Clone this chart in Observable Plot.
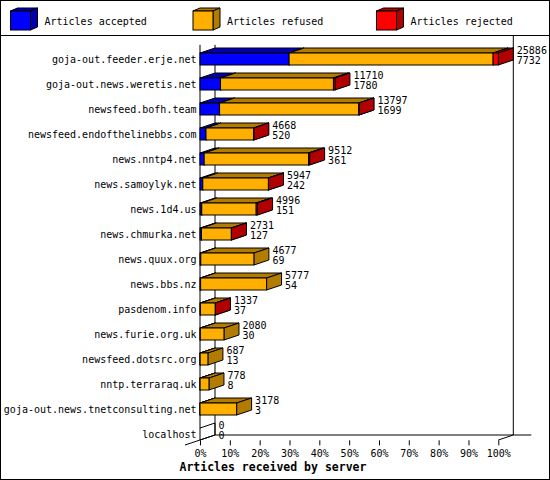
<!DOCTYPE html>
<html>
<head>
<meta charset="utf-8">
<script src="https://cdn.jsdelivr.net/npm/d3@7"></script>
<script src="https://cdn.jsdelivr.net/npm/@observablehq/plot@0.6"></script>
<style>
  html, body { margin: 0; padding: 0; background: #fff; }
  #wrap { position: relative; width: 550px; height: 480px; background: #fff; overflow: hidden; }
  #legend { position: absolute; left: 0; top: 0; width: 550px; height: 36px; border-bottom: 1px solid #000; box-sizing: border-box; }
  #chart { position: absolute; left: 0; top: 36px; }
  #border { position: absolute; left: 0; top: 0; width: 550px; height: 480px; border: 1px solid #000; box-sizing: border-box; pointer-events: none; }
  text { font-family: "DejaVu Sans Mono", "Liberation Mono", monospace; }
</style>
</head>
<body>
<div id="wrap">
  <div id="legend"></div>
  <div id="chart"></div>
  <div id="border"></div>
</div>
<script>
// ---- data ----
const hosts = [
  "goja-out.feeder.erje.net",
  "goja-out.news.weretis.net",
  "newsfeed.bofh.team",
  "newsfeed.endofthelinebbs.com",
  "news.nntp4.net",
  "news.samoylyk.net",
  "news.1d4.us",
  "news.chmurka.net",
  "news.quux.org",
  "news.bbs.nz",
  "pasdenom.info",
  "news.furie.org.uk",
  "newsfeed.dotsrc.org",
  "nntp.terraraq.uk",
  "goja-out.news.tnetconsulting.net",
  "localhost"
];
const totals   = [25886, 11710, 13797, 4668, 9512, 5947, 4996, 2731, 4677, 5777, 1337, 2080, 687, 778, 3178, 0];
const accepted = [7732, 1780, 1699, 520, 361, 242, 151, 127, 69, 54, 37, 30, 13, 8, 3, 0];
const refused  = [17704, 9800, 12078, 4133, 9061, 5695, 4725, 2594, 4608, 5723, 1290, 2050, 674, 770, 3175, 0];
const rejected = [450, 130, 20, 15, 90, 10, 120, 10, 0, 0, 10, 0, 0, 0, 0, 0];
const seriesNames = ["Articles accepted", "Articles refused", "Articles rejected"];
const seriesColors = ["#0000FF", "#FFAF00", "#FF0000"];
const seriesDark = ["#0000B0", "#B27C00", "#B00000"];
const xTicks = [0, 10, 20, 30, 40, 50, 60, 70, 80, 90, 100];
const xTitle = "Articles received by server";

// ---- derived tables ----
const maxTotal = d3.max(totals);
const seriesValues = [accepted, refused, rejected];
const segs = [];
hosts.forEach((h, i) => {
  let c = 0;
  seriesValues.forEach((vals, k) => {
    const v = vals[i];
    if (v > 0) segs.push({host: h, series: seriesNames[k], k, x1: c / maxTotal * 100, x2: (c + v) / maxTotal * 100});
    c += v;
  });
});
const rows = hosts.map((h, i) => ({host: h, total: totals[i], accepted: accepted[i], pct: totals[i] / maxTotal * 100}));

const DX = 15, DY = 5;
const NS = "http://www.w3.org/2000/svg";
function el(name, attrs) {
  const e = document.createElementNS(NS, name);
  for (const k in attrs) e.setAttribute(k, attrs[k]);
  return e;
}
function poly(g, pts, fill) {
  g.appendChild(el("polygon", {points: pts.map(p => p.join(",")).join(" "), fill: fill, stroke: "#000", "stroke-width": 1, "stroke-linejoin": "miter"}));
}
function line(g, x1, y1, x2, y2) {
  g.appendChild(el("line", {x1, y1, x2, y2, stroke: "#000", "stroke-width": 1}));
}
function bandInfo(scales) {
  const y = scales.y;
  let bw = y.bandwidth;
  if (typeof bw === "function") bw = bw();
  if (bw == null && scales.scales && scales.scales.y) bw = scales.scales.y.bandwidth;
  if (bw == null) bw = (y(hosts[1]) - y(hosts[0])) * 0.48;
  return bw;
}

// frame (3D axes box)
function frameMark(index, scales, values, dimensions) {
  const x = scales.x, y = scales.y, bw = bandInfo(scales);
  const g = el("g", {});
  const x0 = x(xTicks[0]), x1 = x(xTicks[xTicks.length - 1]);
  const floorFront = y(hosts[hosts.length - 1]) + bw;
  const floorBack = floorFront - DY;
  const top = dimensions.marginTop - 2;
  line(g, x0, top, x0, floorFront);
  line(g, x0 + DX, top, x0 + DX, floorBack);
  line(g, x1 + DX, 0, x1 + DX, floorBack);
  line(g, x0 + DX, floorBack, x1 + DX + 18, floorBack);
  line(g, x0 - DX, floorFront + DY, x0 + DX, floorBack);
  line(g, x1, floorFront, x1 + DX, floorBack);
  return g;
}

// top & side faces of each segment
function facesMark(index, scales) {
  const x = scales.x, y = scales.y, bw = bandInfo(scales);
  const g = el("g", {});
  rows.forEach(r => {
    const y0 = y(r.host), y1 = y0 + bw;
    if (r.total === 0) {
      const xa = x(0);
      line(g, xa, y0, xa + DX, y0 - DY);
      line(g, xa, y1, xa + DX, y1 - DY);
      line(g, xa + DX, y0 - DY, xa + DX, y1 - DY);
    }
  });
  segs.forEach(s => {
    const xa = x(s.x1), xb = x(s.x2), y0 = y(s.host), y1 = y0 + bw;
    poly(g, [[xa, y0], [xa + DX, y0 - DY], [xb + DX, y0 - DY], [xb, y0]], seriesDark[s.k]);
    poly(g, [[xb, y0], [xb + DX, y0 - DY], [xb + DX, y1 - DY], [xb, y1]], seriesDark[s.k]);
  });
  return g;
}

const chart = Plot.plot({
  width: 550,
  height: 444,
  marginLeft: 200,
  marginRight: 51.7,
  marginTop: 10.8,
  marginBottom: 33.2,
  style: {fontFamily: "DejaVu Sans Mono", fontSize: "10px", background: "transparent", color: "#000", overflow: "visible"},
  x: {domain: [0, 100], label: null},
  y: {type: "band", domain: hosts, paddingInner: 0.52, paddingOuter: 0.26, label: null},
  color: {domain: seriesNames, range: seriesColors},
  marks: [
    frameMark,
    facesMark,
    Plot.barX(segs, {x1: "x1", x2: "x2", y: "host", fill: "series", stroke: "#000", strokeWidth: 1}),
    Plot.axisX({ticks: xTicks, tickFormat: d => d + "%", tickSize: 5, tickPadding: 4, dy: -6.5, label: null, stroke: "#000", fill: "#000"}),
    Plot.axisY({tickSize: 0, tickPadding: 4, label: null, fill: "#000"}),
    Plot.text(rows, {x: "pct", y: "host", text: d => String(d.total), dx: 18, dy: -8.5, textAnchor: "start", fill: "#000"}),
    Plot.text(rows, {x: "pct", y: "host", text: d => String(d.accepted), dx: 18, dy: 1.5, textAnchor: "start", fill: "#000"}),
    Plot.text([xTitle], {frameAnchor: "bottom-left", text: d => d, dx: -21, dy: 23.5, textAnchor: "start", fontWeight: "bold", fontSize: 11.5, fill: "#000"})
  ]
});
document.getElementById("chart").appendChild(chart);

// ---- legend (3D cubes) ----
const legendX = [10.5, 193, 376.5];
const leg = d3.select("#legend").append("svg").attr("width", 550).attr("height", 35).style("display", "block");
seriesNames.forEach((name, k) => {
  const x0 = legendX[k], y0 = 11, w = 20, h = 19, dx = 7, dy = 3;
  const g = leg.append("g");
  g.append("polygon").attr("points", [[x0, y0], [x0 + dx, y0 - dy], [x0 + w + dx, y0 - dy], [x0 + w, y0]].join(" "))
    .attr("fill", seriesDark[k]).attr("stroke", "#000");
  g.append("polygon").attr("points", [[x0 + w, y0], [x0 + w + dx, y0 - dy], [x0 + w + dx, y0 + h - dy], [x0 + w, y0 + h]].join(" "))
    .attr("fill", seriesDark[k]).attr("stroke", "#000");
  g.append("rect").attr("x", x0).attr("y", y0).attr("width", w).attr("height", h)
    .attr("fill", seriesColors[k]).attr("stroke", "#000");
  g.append("text").attr("x", x0 + 34).attr("y", 21).attr("dominant-baseline", "central")
    .attr("font-size", 10).attr("fill", "#000").text(name);
});
</script>
</body>
</html>
